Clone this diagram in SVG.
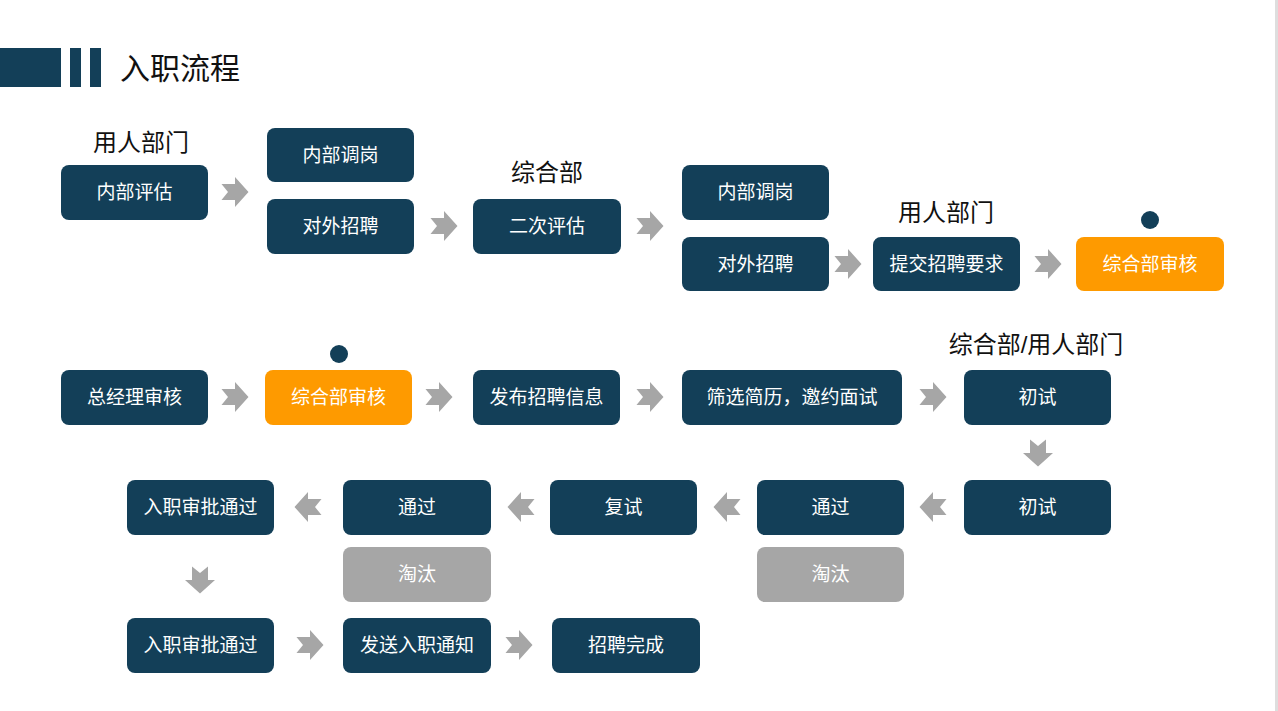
<svg xmlns="http://www.w3.org/2000/svg" xmlns:xlink="http://www.w3.org/1999/xlink" width="1278" height="711" viewBox="0 0 1278 711">
<style>
.n{fill:#133f58}
.o{fill:#fe9a00}
.g{fill:#a6a6a6}
.t{font-family:"Liberation Sans","Noto Sans CJK SC",sans-serif;font-size:19px;fill:#ffffff;text-anchor:middle;dominant-baseline:central}
.l{font-family:"Liberation Sans","Noto Sans CJK SC",sans-serif;font-size:24px;fill:#111111;text-anchor:middle;dominant-baseline:central}
.a{fill:#a6a6a6}
.d{fill:#133f58}
</style>
<defs>
<path id="ar" d="M-13.5,-8 L0,-8 L0,-15 L13.5,0 L0,15 L0,8 L-13.5,8 L-7,0 Z"/>
</defs>
<rect x="0" y="0" width="1278" height="711" fill="#ffffff"/>
<rect x="1275" y="0" width="3" height="711" fill="#dedede"/>
<g id="title">
<rect x="0" y="48" width="61" height="39" class="d"/>
<rect x="70" y="48" width="11" height="39" class="d"/>
<rect x="90" y="48" width="11" height="39" class="d"/>
<text x="120" y="68" font-family="Liberation Sans,'Noto Sans CJK SC',sans-serif" font-size="30" fill="#111" dominant-baseline="central">入职流程</text>
</g>
<g id="labels">
<text class="l" x="141" y="142">用人部门</text>
<text class="l" x="547" y="172">综合部</text>
<text class="l" x="946" y="212">用人部门</text>
<text class="l" x="1036" y="344">综合部/用人部门</text>
<circle cx="1150" cy="220" r="9" class="d"/>
<circle cx="339" cy="354" r="9" class="d"/>
</g>
<g id="n1"><rect class="n" x="61" y="165" width="147" height="55" rx="8"/><text class="t" x="134.5" y="192.5">内部评估</text></g>
<g id="n2"><rect class="n" x="267" y="128" width="147" height="54" rx="8"/><text class="t" x="340.5" y="155">内部调岗</text></g>
<g id="n3"><rect class="n" x="267" y="199" width="147" height="55" rx="8"/><text class="t" x="340.5" y="226.5">对外招聘</text></g>
<g id="n4"><rect class="n" x="473" y="199" width="148" height="55" rx="8"/><text class="t" x="547" y="226.5">二次评估</text></g>
<g id="n5"><rect class="n" x="682" y="165" width="147" height="55" rx="8"/><text class="t" x="755.5" y="192.5">内部调岗</text></g>
<g id="n6"><rect class="n" x="682" y="237" width="147" height="54" rx="8"/><text class="t" x="755.5" y="264">对外招聘</text></g>
<g id="n7"><rect class="n" x="873" y="237" width="147" height="54" rx="8"/><text class="t" x="946.5" y="264">提交招聘要求</text></g>
<g id="n8"><rect class="o" x="1076" y="237" width="148" height="54" rx="8"/><text class="t" x="1150" y="264">综合部审核</text></g>
<g id="n9"><rect class="n" x="61" y="370" width="147" height="55" rx="8"/><text class="t" x="134.5" y="397.5">总经理审核</text></g>
<g id="n10"><rect class="o" x="265" y="370" width="147" height="55" rx="8"/><text class="t" x="338.5" y="397.5">综合部审核</text></g>
<g id="n11"><rect class="n" x="473" y="370" width="147" height="55" rx="8"/><text class="t" x="546.5" y="397.5">发布招聘信息</text></g>
<g id="n12"><rect class="n" x="682" y="370" width="220" height="55" rx="8"/><text class="t" x="792" y="397.5">筛选简历，邀约面试</text></g>
<g id="n13"><rect class="n" x="964" y="370" width="147" height="55" rx="8"/><text class="t" x="1037.5" y="397.5">初试</text></g>
<g id="n14"><rect class="n" x="964" y="480" width="147" height="55" rx="8"/><text class="t" x="1037.5" y="507.5">初试</text></g>
<g id="n15"><rect class="n" x="757" y="480" width="147" height="55" rx="8"/><text class="t" x="830.5" y="507.5">通过</text></g>
<g id="n16"><rect class="g" x="757" y="547" width="147" height="55" rx="8"/><text class="t" x="830.5" y="574.5">淘汰</text></g>
<g id="n17"><rect class="n" x="550" y="480" width="147" height="55" rx="8"/><text class="t" x="623.5" y="507.5">复试</text></g>
<g id="n18"><rect class="n" x="343" y="480" width="148" height="55" rx="8"/><text class="t" x="417" y="507.5">通过</text></g>
<g id="n19"><rect class="g" x="343" y="547" width="148" height="55" rx="8"/><text class="t" x="417" y="574.5">淘汰</text></g>
<g id="n20"><rect class="n" x="127" y="480" width="147" height="55" rx="8"/><text class="t" x="200.5" y="507.5">入职审批通过</text></g>
<g id="n21"><rect class="n" x="127" y="618" width="147" height="55" rx="8"/><text class="t" x="200.5" y="645.5">入职审批通过</text></g>
<g id="n22"><rect class="n" x="343" y="618" width="148" height="55" rx="8"/><text class="t" x="417" y="645.5">发送入职通知</text></g>
<g id="n23"><rect class="n" x="552" y="618" width="148" height="55" rx="8"/><text class="t" x="626" y="645.5">招聘完成</text></g>
<g id="connectors" class="a">
<use xlink:href="#ar" x="235" y="192"/>
<use xlink:href="#ar" x="444" y="226"/>
<use xlink:href="#ar" x="650" y="226"/>
<use xlink:href="#ar" x="848" y="264"/>
<use xlink:href="#ar" x="1048" y="264"/>
<use xlink:href="#ar" x="235" y="397"/>
<use xlink:href="#ar" x="439" y="397"/>
<use xlink:href="#ar" x="650" y="397"/>
<use xlink:href="#ar" x="933" y="397"/>
<use xlink:href="#ar" transform="translate(1038,453) rotate(90)"/>
<use xlink:href="#ar" transform="translate(933,507) rotate(180)"/>
<use xlink:href="#ar" transform="translate(727,507) rotate(180)"/>
<use xlink:href="#ar" transform="translate(521,507) rotate(180)"/>
<use xlink:href="#ar" transform="translate(308,507) rotate(180)"/>
<use xlink:href="#ar" transform="translate(200,580) rotate(90)"/>
<use xlink:href="#ar" x="310" y="645"/>
<use xlink:href="#ar" x="519" y="645"/>
</g>
</svg>
